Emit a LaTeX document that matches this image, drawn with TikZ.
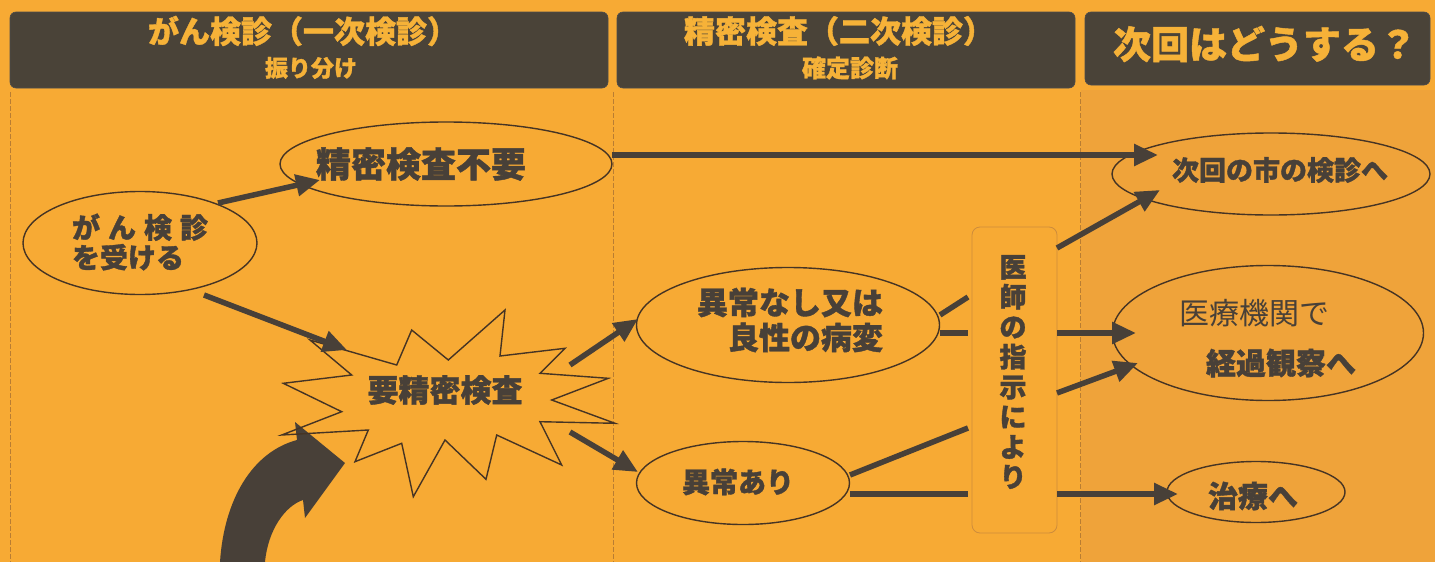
\documentclass[tikz,border=0pt]{standalone}
\usepackage{fontspec}
\setmainfont{Noto Sans CJK JP}[BoldFeatures={FakeBold=1.2}]
\usetikzlibrary{shapes.geometric,arrows.meta}
\definecolor{bg}{RGB}{247,170,52}
\definecolor{bgthree}{RGB}{239,163,58}
\definecolor{ink}{RGB}{72,64,56}
\definecolor{edge}{RGB}{70,52,36}
\definecolor{hdrfill}{RGB}{74,67,56}
\definecolor{hdrtext}{RGB}{246,178,56}
\definecolor{sep}{RGB}{185,125,50}
\definecolor{boxedge}{RGB}{205,140,60}
\begin{document}
\begin{tikzpicture}[x=1pt,y=-1pt,
  ell/.style={ellipse, draw=edge, line width=1.4pt, inner sep=0pt},
  txt/.style={text=ink, inner sep=0pt},
  arr/.style={draw=ink, line width=5.5pt, -{Triangle[length=24pt,width=21pt]}},
  ln/.style={draw=ink, line width=5.5pt},
  hdr/.style={fill=hdrfill, draw=black!70, line width=0.6pt, rounded corners=6pt},
  htxt/.style={text=hdrtext, inner sep=0pt},
  sepline/.style={draw=sep, line width=0.8pt, dash pattern=on 5pt off 2pt}]
\useasboundingbox (0,0) rectangle (1435,562);
\fill[bg] (0,0) rectangle (1435,562);
\fill[bgthree] (1081,90) rectangle (1435,562);
% separators
\draw[sepline] (10,92) -- (10,562);
\draw[sepline] (613,92) -- (613,562);
\draw[sepline] (1080,92) -- (1080,562);
% headers
\draw[hdr] (10,12) rectangle (608,88);
\draw[hdr] (617,12) rectangle (1075,88);
\draw[hdr] (1085,12) rectangle (1430,85);
\node[htxt, font=\bfseries\fontsize{31}{33}\selectfont] (h1) at (303,31) {がん検診（一次検診）};
\node[htxt, font=\bfseries\fontsize{23}{25}\selectfont] (h1s) at (311,68) {振り分け};
\node[htxt, font=\bfseries\fontsize{31}{33}\selectfont] (h2) at (839,31) {精密検査（二次検診）};
\node[htxt, font=\bfseries\fontsize{24}{26}\selectfont] (h2s) at (850,68) {確定診断};
\node[htxt, font=\bfseries\fontsize{38}{40}\selectfont] (h3) at (1265,44) {次回はどうする？};
% big curved arrow
\fill[ink] (220,562) .. controls (224,500) and (252,452) .. (297,440)
  -- (295,422) -- (345,463) -- (305,518) -- (303,500)
  .. controls (285,506) and (268,530) .. (265,562) -- cycle;
% starburst
\draw[edge, line width=1.4pt, line join=miter]
  (396.7,365) -- (411.7,330) -- (448.3,360) -- (505,310) -- (500,356)
  -- (565,348.3) -- (540,373.3) -- (608.3,378.3) -- (551.7,400)
  -- (615,423.3) -- (540,421.7) -- (561.7,465) -- (496.7,435)
  -- (486,479.3) -- (445,440) -- (413.3,496.7) -- (401.7,443.3)
  -- (355,461.7) -- (368.3,430) -- (281.7,435) -- (341.7,411.7)
  -- (283.3,383.3) -- (351.7,375) -- (310,340) -- cycle;
\node[txt, font=\bfseries\fontsize{31}{33}\selectfont] (yousei) at (445,390) {要精密検査};
% ellipses
\node[ell, minimum width=234pt, minimum height=103pt] (kenshin) at (140,243) {};
\node[txt, align=left, font=\bfseries\fontsize{28}{30}\selectfont] (kenshint) at (140,242) {が\hspace{8pt}ん\hspace{8pt}検\hspace{8pt}診\\を受ける};
\node[ell, minimum width=332pt, minimum height=84pt] (fuyou) at (446,164) {};
\node[txt, font=\bfseries\fontsize{35}{37}\selectfont] (fuyout) at (421,164) {精密検査不要};
\node[ell, minimum width=303pt, minimum height=115pt] (nashi) at (788,325) {};
\node[txt, align=right, font=\bfseries\fontsize{31}{35}\selectfont] (nashit) at (790,320) {異常なし又は\\良性の病変};
\node[ell, minimum width=213pt, minimum height=83pt] (ari) at (743,483) {};
\node[txt, font=\bfseries\fontsize{28}{30}\selectfont] (arit) at (738,482) {異常あり};
\node[ell, minimum width=318pt, minimum height=82pt] (jikai) at (1271,174) {};
\node[txt, font=\bfseries\fontsize{27}{29}\selectfont] (jikait) at (1280,170) {次回の市の検診へ};
\node[ell, minimum width=311pt, minimum height=135pt] (iryo) at (1268,333) {};
\node[txt, font=\fontsize{30}{32}\selectfont] (iryot) at (1254,313) {医療機関で};
\node[txt, font=\bfseries\fontsize{30}{32}\selectfont] (keikat) at (1281,363) {経過観察へ};
\node[ell, minimum width=178pt, minimum height=61pt] (chiryo) at (1256,492) {};
\node[txt, font=\bfseries\fontsize{30}{32}\selectfont] (chiryot) at (1253,496) {治療へ};
% doctor box
\draw[draw=boxedge, line width=0.8pt, rounded corners=8pt] (972,227) rectangle (1057,533);
\node[txt, align=center, font=\bfseries\fontsize{27}{30}\selectfont] (ishi) at (1013,372) {医\\師\\の\\指\\示\\に\\よ\\り};
% connector end points
\coordinate (k1) at (218,203);
\coordinate (f1) at (320,180);
\coordinate (k2) at (204,295);
\coordinate (s1) at (347,350);
\coordinate (s2) at (570,365);
\coordinate (n1) at (638,319);
\coordinate (s3) at (570,432);
\coordinate (a1) at (638,472);
\coordinate (f2) at (612,155);
\coordinate (j1) at (1158,155);
\coordinate (n2) at (940,315);
\coordinate (b1) at (968,297);
\coordinate (n3) at (940,333);
\coordinate (b2) at (968,333);
\coordinate (a2) at (850,475);
\coordinate (b3) at (968,428);
\coordinate (a3) at (850,494);
\coordinate (b4) at (968,494);
\coordinate (c1) at (1057,248);
\coordinate (j2) at (1160,190);
\coordinate (c2) at (1057,333);
\coordinate (i1) at (1136,333);
\coordinate (c3) at (1057,393);
\coordinate (i2) at (1138,363);
\coordinate (c4) at (1057,494);
\coordinate (t1) at (1178,494);
% connectors
\draw[arr] (k1) -- (f1);
\draw[arr] (k2) -- (s1);
\draw[arr] (s2) -- (n1);
\draw[arr] (s3) -- (a1);
\draw[arr] (f2) -- (j1);
\draw[ln] (n2) -- (b1);
\draw[ln] (n3) -- (b2);
\draw[ln] (a2) -- (b3);
\draw[ln] (a3) -- (b4);
\draw[arr] (c1) -- (j2);
\draw[arr] (c2) -- (i1);
\draw[arr] (c3) -- (i2);
\draw[arr] (c4) -- (t1);
\end{tikzpicture}
\end{document}
